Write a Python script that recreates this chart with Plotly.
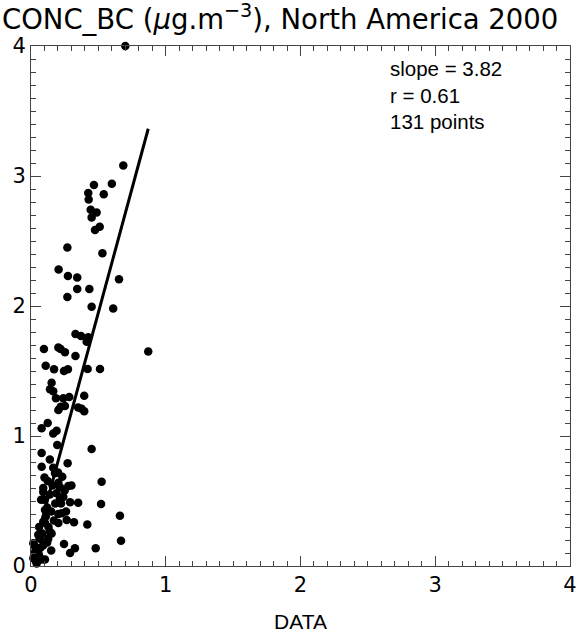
import plotly.graph_objects as go

# Scatter values (DATA vs model CONC_BC)
x_data = [0.70, 0.685, 0.60, 0.467, 0.425, 0.54, 0.428, 0.443, 0.487, 0.45,
          0.51, 0.475, 0.27, 0.53, 0.205, 0.274, 0.343, 0.653, 0.343, 0.433,
          0.27, 0.45, 0.61, 0.33, 0.371, 0.425, 0.413, 0.096, 0.203, 0.22,
          0.252, 0.33, 0.87, 0.109, 0.171, 0.245, 0.274, 0.42, 0.512, 0.153,
          0.141, 0.165, 0.185, 0.24, 0.284, 0.395, 0.22, 0.252, 0.35, 0.376,
          0.203, 0.395, 0.079, 0.124, 0.165, 0.19, 0.195, 0.45, 0.079, 0.079,
          0.165, 0.272, 0.178, 0.232, 0.124, 0.203, 0.524, 0.091, 0.215, 0.277,
          0.091, 0.10, 0.075, 0.215, 0.24, 0.223, 0.35, 0.52, 0.104, 0.66,
          0.203, 0.228, 0.265, 0.319, 0.418, 0.091, 0.104, 0.203, 0.141, 0.153,
          0.054, 0.067, 0.128, 0.245, 0.668, 0.017, 0.03, 0.091, 0.326, 0.29,
          0.48, 0.03, 0.054, 0.017, 0.079, 0.104, 0.042,
          0.06, 0.12, 0.14, 0.16, 0.18, 0.11, 0.07, 0.05, 0.13, 0.19,
          0.15, 0.17, 0.06, 0.085, 0.12, 0.20, 0.25, 0.29, 0.30, 0.14,
          0.10, 0.26, 0.035, 0.15]
y_data = [4.0, 3.08, 2.94, 2.93, 2.87, 2.86, 2.82, 2.74, 2.72, 2.68,
          2.61, 2.585, 2.45, 2.405, 2.28, 2.23, 2.22, 2.205, 2.13, 2.13,
          2.07, 1.995, 1.98, 1.785, 1.77, 1.76, 1.725, 1.67, 1.68, 1.67,
          1.645, 1.615, 1.65, 1.54, 1.513, 1.50, 1.513, 1.515, 1.515, 1.41,
          1.36, 1.345, 1.29, 1.29, 1.30, 1.31, 1.225, 1.23, 1.22, 1.21,
          1.20, 1.19, 1.06, 1.10, 1.02, 1.04, 0.93, 0.90, 0.87, 0.764,
          0.756, 0.79, 0.713, 0.687, 0.654, 0.64, 0.648, 0.60, 0.605, 0.615,
          0.57, 0.51, 0.51, 0.52, 0.53, 0.48, 0.487, 0.477, 0.43, 0.387,
          0.40, 0.405, 0.354, 0.336, 0.32, 0.34, 0.33, 0.33, 0.264, 0.25,
          0.24, 0.21, 0.21, 0.17, 0.195, 0.175, 0.15, 0.16, 0.136, 0.10,
          0.136, 0.11, 0.10, 0.06, 0.05, 0.05, 0.02,
          0.30, 0.45, 0.55, 0.62, 0.48, 0.38, 0.14, 0.05, 0.30, 0.56,
          0.42, 0.35, 0.08, 0.25, 0.18, 0.72, 0.58, 0.49, 0.62, 0.82,
          0.68, 0.42, 0.04, 0.12]

slope = 3.82
intercept = 0.04
r_value = 0.61
n_points = 131

tick_vals = [0, 1, 2, 3, 4]
tick_text = ["0", "1", "2", "3", "4"]

title_text = "CONC_BC (<i>μ</i>g.m<sup>−3</sup>), North America 2000"
x_title = "DATA"

line_x = [min(x_data), max(x_data)]
line_y = [slope * v + intercept for v in line_x]

FONT = "Liberation Sans, Arial, sans-serif"
TFONT = "DejaVu Sans, sans-serif"

fig = go.Figure()
fig.add_trace(go.Scatter(
    x=x_data, y=y_data, mode="markers",
    marker=dict(color="black", size=8.5, line=dict(width=0)),
    cliponaxis=False, showlegend=False, hoverinfo="skip"))
fig.add_trace(go.Scatter(
    x=line_x, y=line_y, mode="lines",
    line=dict(color="black", width=3),
    showlegend=False, hoverinfo="skip"))

axis_common = dict(
    range=[0, 4], tickvals=tick_vals, ticktext=tick_text,
    ticks="inside", ticklen=10, tickwidth=1, tickcolor="#444",
    showline=True, linecolor="#444", linewidth=1, mirror="allticks",
    showgrid=False, zeroline=False, automargin=False,
    tickfont=dict(family=TFONT, size=21, color="black"),
    minor=dict(dtick=0.1, ticks="inside", ticklen=5, tickwidth=1, tickcolor="#444", showgrid=False),
)

fig.update_layout(
    width=581, height=636,
    margin=dict(l=31, r=11, t=46, b=70),
    paper_bgcolor="white", plot_bgcolor="white",
    xaxis=dict(**axis_common, title=dict(text=x_title, font=dict(family=FONT, size=21, color="black"), standoff=18)),
    yaxis=dict(**axis_common),
)

fig.add_annotation(text=title_text, xref="paper", yref="paper", x=-0.057, y=1.094,
                   xanchor="left", yanchor="top", showarrow=False,
                   font=dict(family=TFONT, size=27.5, color="black"))
fig.add_annotation(text=f"slope = {slope:.2f}<br>r = {r_value:.2f}<br>{n_points} points",
                   xref="paper", yref="paper", x=0.662, y=0.982, xanchor="left", yanchor="top",
                   align="left", showarrow=False,
                   font=dict(family=FONT, size=20.5, color="black"))

fig.write_html("out.html")
